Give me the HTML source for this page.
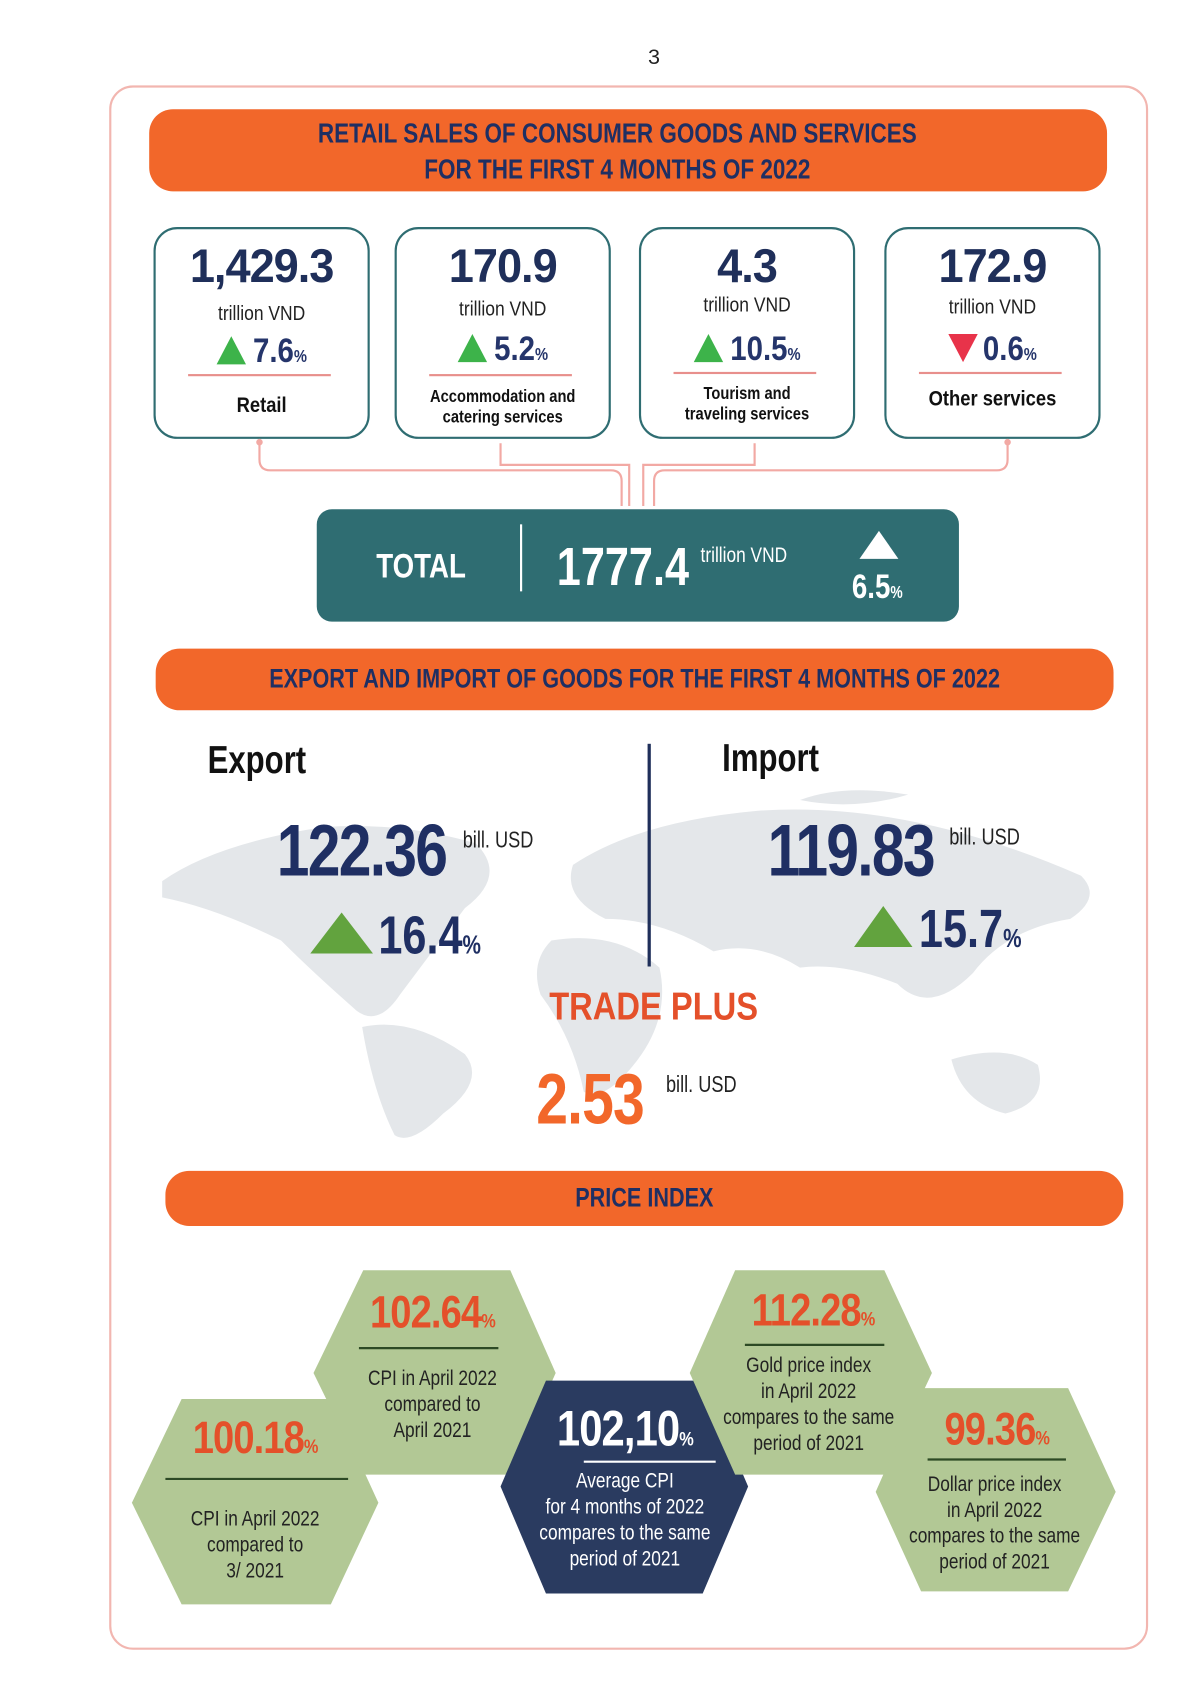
<!DOCTYPE html>
<html><head><meta charset="utf-8"><style>
html,body{margin:0;padding:0;background:#fff;width:1200px;height:1697px;overflow:hidden}
#w{position:absolute;left:0;top:0;width:1110px;height:1570px;transform:scale(1.0811);transform-origin:0 0;font-family:"Liberation Sans",sans-serif}
.a{position:absolute}
.c{text-align:center}
.n{transform:scaleX(.8);transform-origin:0 0}
.nc{transform:scaleX(.8);transform-origin:50% 0}
.bar{position:absolute;background:#f2672a;border-radius:22px;color:#1f2f63;font-weight:bold;text-align:center}
.card{position:absolute;border:2px solid #2f6d72;border-radius:22px;top:210px;height:192px;width:196px;background:#fff}
.big{position:absolute;left:0;right:0;text-align:center;font-weight:bold;color:#1f2f5a;font-size:44px;letter-spacing:-1px;transform:scaleX(.95)}
.unit{position:absolute;left:0;right:0;text-align:center;font-size:19px;color:#222;transform:scaleX(.85)}
.pct{position:absolute;left:0;right:0;text-align:center;font-size:32px;font-weight:bold;color:#25356b;transform:scaleX(.85)}
.pct small{font-size:16px}
.line{position:absolute;left:30px;right:34px;height:2px;background:#e88f8c}
.lab{position:absolute;left:0;right:0;text-align:center;font-weight:bold;color:#111;transform:scaleX(.85)}
.tri{display:inline-block;width:0;height:0;border-left:16px solid transparent;border-right:16px solid transparent;border-bottom:26px solid #3db34a;margin-right:8px;vertical-align:-2px}
.trid{display:inline-block;width:0;height:0;border-left:16px solid transparent;border-right:16px solid transparent;border-top:26px solid #e8334a;margin-right:6px;vertical-align:-2px}
.ht{position:absolute;text-align:center;font-size:20px;line-height:24px;color:#222;transform:scaleX(.8)}
.hn{position:absolute;text-align:center;font-size:42px;font-weight:bold;color:#e4502a;letter-spacing:-1px;transform:scaleX(.84)}
.hn small{font-size:18px}
</style></head><body><div id="w">
<div class="a c" style="left:590px;top:42px;width:30px;font-size:20px;color:#222">3</div>
<div class="a" style="left:101px;top:79px;width:957px;height:1443px;border:2px solid #f2b6b0;border-radius:22px"></div>

<div class="bar" style="left:138px;top:101px;width:886px;height:76px;padding-top:6px;box-sizing:border-box"><div class="nc" style="font-size:26px;line-height:33px;margin-left:-20px">RETAIL SALES OF CONSUMER GOODS AND SERVICES<br>FOR THE FIRST 4 MONTHS OF 2022</div></div>

<div class="card" style="left:142px"><div class="big" style="top:10px">1,429.3</div><div class="unit" style="top:68px">trillion VND</div><div class="pct" style="top:94px"><span class="tri"></span>7.6<small>%</small></div><div class="line" style="top:134px"></div><div class="lab" style="top:152px;font-size:20px">Retail</div></div>
<div class="card" style="left:365px"><div class="big" style="top:10px">170.9</div><div class="unit" style="top:64px">trillion VND</div><div class="pct" style="top:92px"><span class="tri"></span>5.2<small>%</small></div><div class="line" style="top:134px"></div><div class="lab" style="top:146px;font-size:16px;line-height:19px">Accommodation and<br>catering services</div></div>
<div class="card" style="left:591px"><div class="big" style="top:10px">4.3</div><div class="unit" style="top:60px">trillion VND</div><div class="pct" style="top:92px"><span class="tri"></span>10.5<small>%</small></div><div class="line" style="top:132px"></div><div class="lab" style="top:143px;font-size:16px;line-height:19px">Tourism and<br>traveling services</div></div>
<div class="card" style="left:818px"><div class="big" style="top:10px">172.9</div><div class="unit" style="top:62px">trillion VND</div><div class="pct" style="top:92px"><span class="trid"></span>0.6<small>%</small></div><div class="line" style="top:132px"></div><div class="lab" style="top:146px;font-size:20px">Other services</div></div>

<svg class="a" style="left:0;top:400px" width="1110" height="75"><g fill="none" stroke="#f2a9a4" stroke-width="2">
<path d="M240 10 V25 Q240 35 250 35 H565 Q575 35 575 45 V68"/>
<path d="M463 10 V30 H582 V68"/>
<path d="M698 10 V30 H595 V68"/>
<path d="M932 10 V25 Q932 35 922 35 H615 Q605 35 605 45 V68"/></g>
<circle cx="240" cy="9" r="3" fill="#f2a9a4"/><circle cx="932" cy="9" r="3" fill="#f2a9a4"/></svg>

<div class="a" style="left:293px;top:471px;width:594px;height:104px;background:#2f6d72;border-radius:14px;color:#fff">
<div class="a n" style="left:55px;top:34px;font-size:32px;font-weight:bold">TOTAL</div>
<div class="a" style="left:188px;top:14px;width:2px;height:62px;background:#fff"></div>
<div class="a n" style="left:222px;top:24px;font-size:50px;font-weight:bold">1777.4</div>
<div class="a n" style="left:355px;top:32px;font-size:20px">trillion VND</div>
<div class="a" style="left:502px;top:20px;width:0;height:0;border-left:18px solid transparent;border-right:18px solid transparent;border-bottom:26px solid #fff"></div>
<div class="a n" style="left:495px;top:53px;font-size:32px;font-weight:bold">6.5<span style="font-size:16px">%</span></div>
</div>

<div class="bar" style="left:144px;top:600px;width:886px;height:57px"><div class="nc" style="font-size:25px;line-height:57px">EXPORT AND IMPORT OF GOODS FOR THE FIRST 4 MONTHS OF 2022</div></div>

<svg class="a" style="left:140px;top:720px" width="880" height="350"><g fill="#e4e7ea">
<path d="M10 95 Q60 60 160 45 Q230 40 300 60 Q330 90 290 120 Q260 160 230 200 Q210 230 190 215 Q150 180 120 150 Q60 120 10 110Z"/>
<path d="M195 230 Q240 220 290 255 Q310 280 270 310 Q240 340 225 330 Q205 290 195 230Z"/>
<path d="M390 80 Q450 40 560 30 Q700 20 860 90 Q880 110 850 130 Q790 140 760 180 Q720 220 690 190 Q640 170 600 175 Q560 150 520 160 Q470 130 420 130 Q380 110 390 80Z"/>
<path d="M370 150 Q430 140 470 175 Q480 220 450 260 Q420 300 400 290 Q390 240 360 200 Q350 170 370 150Z"/>
<path d="M740 260 Q790 245 820 265 Q830 300 790 310 Q750 300 740 260Z"/>
<path d="M600 20 Q640 5 700 15 Q650 30 600 20Z"/></g></svg>

<div class="a n" style="left:192px;top:682px;font-size:36px;font-weight:bold;color:#111">Export</div>
<div class="a n" style="left:668px;top:680px;font-size:36px;font-weight:bold;color:#111">Import</div>
<div class="a" style="left:599px;top:688px;width:3px;height:206px;background:#1f2f5a"></div>
<div class="a n" style="left:256px;top:748px;font-size:68px;font-weight:bold;color:#1f2f63;letter-spacing:-2px">122.36</div>
<div class="a n" style="left:428px;top:766px;font-size:21px;color:#222">bill. USD</div>
<div class="a" style="left:287px;top:844px;width:0;height:0;border-left:29px solid transparent;border-right:29px solid transparent;border-bottom:38px solid #62a33e"></div>
<div class="a n" style="left:350px;top:836px;font-size:50px;font-weight:bold;color:#1f2f63">16.4<span style="font-size:24px">%</span></div>
<div class="a n" style="left:710px;top:748px;font-size:68px;font-weight:bold;color:#1f2f63;letter-spacing:-2px">119.83</div>
<div class="a n" style="left:878px;top:763px;font-size:21px;color:#222">bill. USD</div>
<div class="a" style="left:790px;top:838px;width:0;height:0;border-left:27px solid transparent;border-right:27px solid transparent;border-bottom:38px solid #62a33e"></div>
<div class="a n" style="left:850px;top:830px;font-size:50px;font-weight:bold;color:#1f2f63">15.7<span style="font-size:24px">%</span></div>
<div class="a n" style="left:508px;top:910px;font-size:36px;font-weight:bold;color:#e4502a;transform:scaleX(.84)">TRADE PLUS</div>
<div class="a n" style="left:496px;top:978px;font-size:66px;font-weight:bold;color:#f2672a;letter-spacing:-1px">2.53</div>
<div class="a n" style="left:616px;top:992px;font-size:21px;color:#222">bill. USD</div>

<div class="bar" style="left:153px;top:1083px;width:886px;height:51px"><div class="nc" style="font-size:25px;line-height:51px">PRICE INDEX</div></div>

<svg class="a" style="left:0;top:0" width="1110" height="1570">
<polygon points="122,1390 168,1294 306,1294 350,1390 306,1484 168,1484" fill="#b2c895"/>
<polygon points="290,1270 336,1175 472,1175 514,1270 472,1364 336,1364" fill="#b2c895"/>
<polygon points="463,1375 505,1277 650,1277 692,1375 650,1474 505,1474" fill="#2a3b60"/>
<polygon points="638,1270 680,1175 818,1175 862,1270 818,1364 680,1364" fill="#b2c895"/>
<polygon points="810,1380 852,1284 988,1284 1032,1380 988,1472 852,1472" fill="#b2c895"/>
<g stroke-width="2"><line x1="153" y1="1368" x2="322" y2="1368" stroke="#2d4a25"/>
<line x1="332" y1="1247" x2="461" y2="1247" stroke="#2d4a25"/>
<line x1="540" y1="1352" x2="662" y2="1352" stroke="#fff"/>
<line x1="689" y1="1244" x2="818" y2="1244" stroke="#2d4a25"/>
<line x1="858" y1="1350" x2="986" y2="1350" stroke="#2d4a25"/></g></svg>

<div class="hn" style="left:136px;top:1306px;width:200px">100.18<small>%</small></div>
<div class="ht" style="left:136px;top:1393px;width:200px">CPI in April 2022<br>compared to<br>3/ 2021</div>
<div class="hn" style="left:300px;top:1190px;width:200px">102.64<small>%</small></div>
<div class="ht" style="left:300px;top:1263px;width:200px">CPI in April 2022<br>compared to<br>April 2021</div>
<div class="hn" style="left:478px;top:1294px;width:200px;color:#fff;font-size:46px">102,10<small>%</small></div>
<div class="ht" style="left:478px;top:1358px;width:200px;color:#fff">Average CPI<br>for 4 months of 2022<br>compares to the same<br>period of 2021</div>
<div class="hn" style="left:652px;top:1188px;width:200px">112.28<small>%</small></div>
<div class="ht" style="left:648px;top:1251px;width:200px">Gold price index<br>in April 2022<br>compares to the same<br>period of 2021</div>
<div class="hn" style="left:822px;top:1298px;width:200px">99.36<small>%</small></div>
<div class="ht" style="left:820px;top:1361px;width:200px">Dollar price index<br>in April 2022<br>compares to the same<br>period of 2021</div>
</div></body></html>
